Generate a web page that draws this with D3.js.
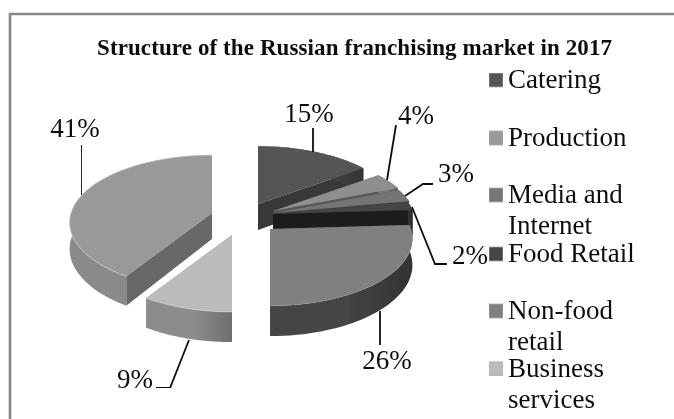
<!DOCTYPE html>
<html><head><meta charset="utf-8">
<script src="https://cdn.jsdelivr.net/npm/d3@7"></script>
<style>html,body{margin:0;padding:0;background:#fff}svg{display:block}text{font-family:"Liberation Serif",serif;fill:#111}</style>
</head><body><svg id="c" width="674" height="419"></svg>
<script>
const categories = ["Catering","Production","Media and Internet","Food Retail","Non-food retail","Business services"];
const shares = [15,4,3,2,26,9];
const remainderShare = [41];
const values = shares.concat(remainderShare);
const valueLabels = ["15%","4%","3%","2%","26%","9%","41%"];
const topColors = ["#555555","#8e8e8e","#757575","#454545","#808080","#bcbcbc","#999999"];
const wallLight = ["#4a4a4a","#777777","#666666","#333333","#444444","#8c8c8c","#8a8a8a"];
const wallDark = ["#333333","#555555","#444444","#1f1f1f","#333333","#6e6e6e","#6a6a6a"];
const cutColors = ["#383838","#555555","#4a4a4a","#1e1e1e","#555555","#777777","#686868"];
const legendColors = ["#555555","#999999","#777777","#444444","#808080","#bbbbbb"];

const R=141, RK=66, P=0.141, DEPTH=26;
const apexes=[[258,204],[273,211],[274,213],[273,214],[270,229],[232,235],[212,213]];
const svg=d3.select("#c");
const defs=svg.append("defs");
defs.append("filter").attr("id","soft").attr("x","-5%").attr("y","-5%").attr("width","110%").attr("height","110%")
  .append("feGaussianBlur").attr("stdDeviation",0.6);
defs.append("filter").attr("id","textsoft").attr("x","0").attr("y","0").attr("width","100%").attr("height","100%")
  .append("feGaussianBlur").attr("stdDeviation",0.35);
svg.append("path").attr("fill","none").attr("stroke","#888").attr("stroke-width",2.6).attr("d",d3.line()([[10,419],[10,14],[674,14]]));

const arcs=d3.pie().sort(null).value(d=>d)(values);
const scaleAt=(a)=>1/(1+P*Math.cos(a));
const project=(a,ap,depth=0)=>{
  const s=scaleAt(a);
  return [ap[0]+Math.sin(a)*R*s, ap[1]-Math.cos(a)*RK*s+depth*s];
};
const line=d3.line();
const order=[6,0,1,2,3,5,4];
const g=svg.append("g").attr("filter","url(#soft)");
order.forEach(i=>{
  const d=arcs[i], ap=apexes[i];
  const angles=d3.range(0,41).map(k=>d.startAngle+(d.endAngle-d.startAngle)*k/40);
  const rim=angles.map(a=>project(a,ap));
  const rimLow=angles.map(a=>project(a,ap,DEPTH));
  const gid="w"+i;
  const xs=rim.map(p=>p[0]);
  const grad=defs.append("linearGradient").attr("id",gid).attr("gradientUnits","userSpaceOnUse")
    .attr("x1",d3.min(xs)).attr("x2",d3.max(xs)).attr("y1",0).attr("y2",0);
  grad.append("stop").attr("offset",0).attr("stop-color",wallLight[i]);
  grad.append("stop").attr("offset",0.55).attr("stop-color",wallLight[i]);
  grad.append("stop").attr("offset",1).attr("stop-color",wallDark[i]);
  [d.startAngle,d.endAngle].forEach(a=>{
    const e=project(a,ap), eLow=project(a,ap,DEPTH);
    g.append("path").attr("fill",cutColors[i])
     .attr("d",line([ap,e,eLow,[ap[0],ap[1]+DEPTH]])+"Z");
  });
  g.append("path").attr("fill",`url(#${gid})`).attr("d",line(rim.concat(rimLow.slice().reverse()))+"Z");
  g.append("path").attr("fill",topColors[i]).attr("d",line([ap].concat(rim))+"Z");
  g.append("path").attr("fill","none").attr("stroke","#d0d0d0").attr("stroke-opacity",i>=5?0.7:0.15).attr("stroke-width",1).attr("d",line(rim));
});

const leaders=[
 [[313,128],[313,152]],
 [[396,125],[387,180]],
 [[433,184],[423,184],[405,196]],
 [[412,207],[435,264],[447,264]],
 [[380,311],[380,345]],
 [[189,340],[170,388],[156,388]],
 [[81,145],[81,195]]
];
const leaderG=svg.append("g").attr("filter","url(#textsoft)");
leaders.forEach(l=>leaderG.append("path").attr("fill","none").attr("stroke","#111").attr("stroke-width",1.8).attr("d",line(l)));
const labelPos=[[309,122],[416,124],[456,182],[470,264],[387,369],[135,388],[75,137]];
const tg=svg.append("g").attr("filter","url(#textsoft)");
valueLabels.forEach((t,i)=>tg.append("text").attr("x",labelPos[i][0]).attr("y",labelPos[i][1]).attr("text-anchor","middle").attr("font-size",27).text(t));

tg.append("text").attr("x",97).attr("y",55).attr("font-size",23).attr("font-weight","bold").attr("textLength",515).attr("lengthAdjust","spacing").text("Structure of the Russian franchising market in 2017");

const legendRows=[["Catering"],["Production"],["Media and","Internet"],["Food Retail"],["Non-food","retail"],["Business","services"]];
const legendY=[88,146,203,262,319,377];
const lg=svg.append("g").attr("filter","url(#textsoft)");
legendRows.forEach((lines,i)=>{
  const y=legendY[i];
  lg.append("rect").attr("x",489).attr("y",y-15).attr("width",14).attr("height",14).attr("fill",legendColors[i]).attr("stroke","#aaa").attr("stroke-width",.8);
  lines.forEach((t,j)=>tg.append("text").attr("x",508).attr("y",y+j*31).attr("font-size",27).text(t));
});
</script></body></html>
